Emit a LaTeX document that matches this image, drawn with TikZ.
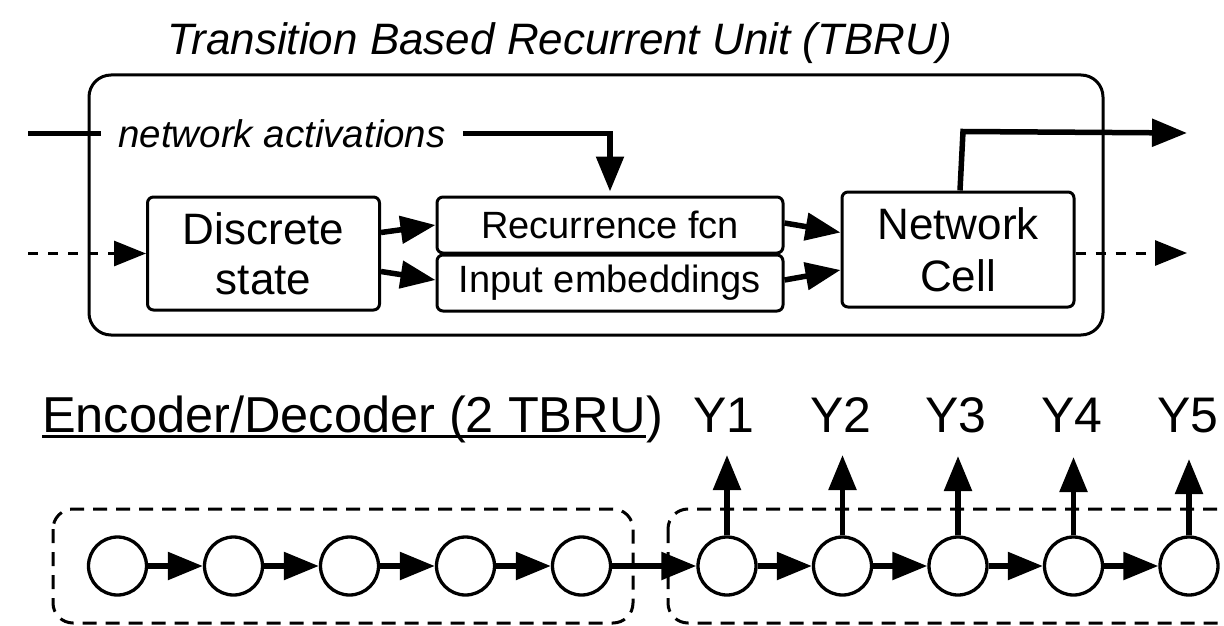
\documentclass[tikz,border=0pt]{standalone}
\usepackage{fontspec}
\setmainfont{Liberation Sans}
\usetikzlibrary{arrows.meta}
\begin{document}
\begin{tikzpicture}[x=1pt,y=-1pt,
  box/.style={draw, line width=3pt, rounded corners=6pt, inner sep=0pt, align=center},
  bigtxt/.style={font=\fontsize{44}{50}\selectfont},
  midtxt/.style={font=\fontsize{38}{42}\selectfont},
  thk/.style={line width=5.5pt, -{Triangle[length=35pt,width=27pt]}},
  thkplain/.style={line width=5.5pt},
  dsh/.style={line width=3pt, dash pattern=on 10pt off 10pt, -{Triangle[length=32pt,width=25pt]}},
  dbox/.style={line width=3pt, dash pattern=on 14pt off 9pt, rounded corners=20pt},
  circ/.style={draw, circle, line width=3.3pt, minimum size=58pt, inner sep=0pt},
  ylab/.style={anchor=base, inner sep=0pt, font=\fontsize{50}{56}\selectfont}]
\useasboundingbox (0,0) rectangle (1224,626);
\clip (0,0) rectangle (1224,626);

% title
\node[anchor=base, inner sep=0pt, font=\fontsize{44}{50}\selectfont\itshape] (title) at (560,55) {Transition Based Recurrent Unit (TBRU)};

% outer TBRU box
\node[draw, line width=3pt, rounded corners=22pt, minimum width=1014pt, minimum height=260pt, inner sep=0pt] (tbru) at (596,205) {};

% inner boxes
\node[box, bigtxt, minimum width=232pt, minimum height=113pt] (ds) at (263.5,253.5) {Discrete\\state};
\node[box, midtxt, minimum width=346pt, minimum height=56pt] (rec) at (610,225) {Recurrence fcn};
\node[box, midtxt, minimum width=346pt, minimum height=56pt] (emb) at (610,283) {Input embeddings};
\node[box, bigtxt, minimum width=232pt, minimum height=115pt, font=\fontsize{44}{52}\selectfont] (cell) at (958,249.5) {Network\\Cell};

% network activations
\node[inner xsep=17pt, inner ysep=0pt, font=\fontsize{38.5}{44}\selectfont\itshape] (na) at (282,133.5) {network activations};

\coordinate (inS) at (28,133.5);
\coordinate (inD) at (28,253.5);
\coordinate (outT) at (1187,133);
\coordinate (outD) at (1187,253);

\draw[thkplain] (inS) -- (na.west);
\draw[thk] (na.east) -| ([yshift=4pt]rec.north);
\draw[dsh] (inD) -- (ds.west);

\draw[thk] ([yshift=21pt]ds.east) -- (rec.west);
\draw[thk] ([yshift=-18pt]ds.east) -- ([yshift=3pt]emb.west);
\draw[thk] ([yshift=2pt]rec.east) -- ([yshift=17pt]cell.west);
\draw[thk] ([yshift=3pt]emb.east) -- ([yshift=-20.5pt]cell.west);

\draw[thk] ([xshift=2pt]cell.north) -- ++(3,-59) -- (outT);
\draw[dsh] ([yshift=-3.5pt]cell.east) -- (outD);

% encoder / decoder label
\node[anchor=base west, inner sep=0pt, font=\fontsize{50.5}{56}\selectfont] (encA) at (42,432) {Encoder/Decoder (2 TBRU};
\node[anchor=base west, inner sep=0pt, font=\fontsize{50.5}{56}\selectfont] (encB) at (encA.base east) {)};
\draw[line width=3pt] ([yshift=-4.5pt]encA.base west) -- ([yshift=-4.5pt]encA.base east);

% dashed group boxes
\draw[dbox] (53,509) rectangle (633,623);
\draw[dbox] (668,509) rectangle (1300,623);

% encoder circles
\foreach \i/\x in {1/117.5,2/233.5,3/349.5,4/465.5,5/581.5}
  \node[circ] (e\i) at (\x,566) {};
% decoder circles
\foreach \i/\x in {1/727,2/842.5,3/958,4/1073.5,5/1189}
  \node[circ] (d\i) at (\x,566) {};

\foreach \a/\b in {e1/e2,e2/e3,e3/e4,e4/e5,e5/d1,d1/d2,d2/d3,d3/d4,d4/d5}
  \draw[thk] (\a.east) -- (\b.west);

% outputs
\node[ylab] (y1) at (724,432) {Y1};
\node[ylab] (y2) at (841,432) {Y2};
\node[ylab] (y3) at (956,432) {Y3};
\node[ylab] (y4) at (1072,432) {Y4};
\node[ylab] (y5) at (1188,432) {Y5};

\coordinate (t1) at (727,455);
\coordinate (t2) at (842.5,455);
\coordinate (t3) at (958,456);
\coordinate (t4) at (1073.5,457);
\coordinate (t5) at (1189,459);
\foreach \i in {1,...,5}
  \draw[thk] (d\i.north) -- (t\i);
\end{tikzpicture}
\end{document}
